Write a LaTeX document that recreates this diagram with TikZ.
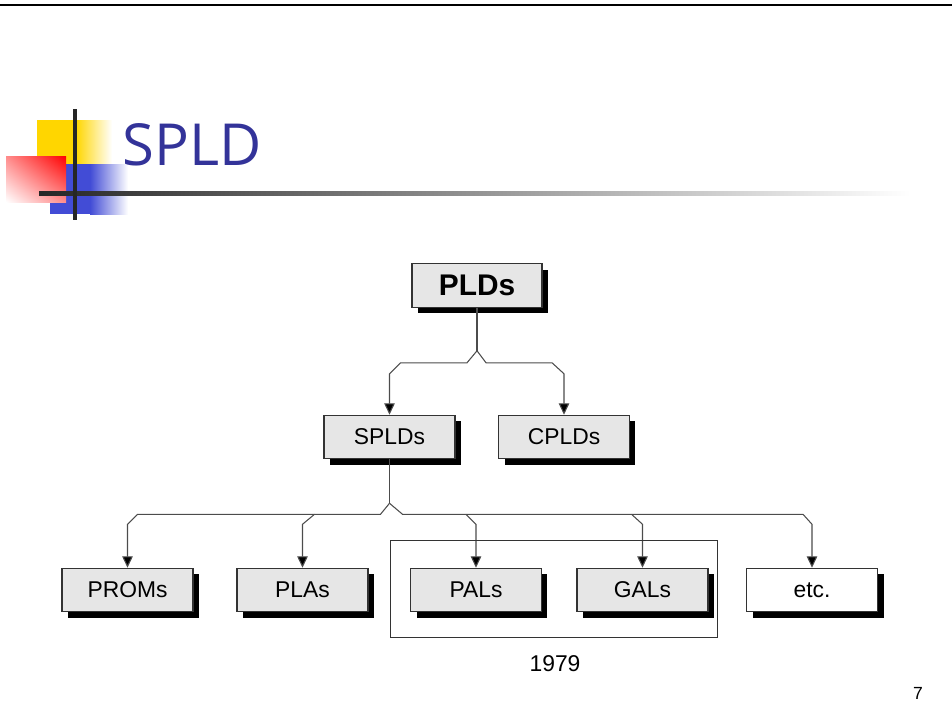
\documentclass[tikz,border=0pt]{standalone}
\usepackage{fontspec}
\setmainfont{Liberation Sans}
\newfontfamily\titlefont{Open Sans}
\usetikzlibrary{arrows.meta,shadows,shadings,calc}
\definecolor{title-blue}{RGB}{51,51,153}
\definecolor{box-gray}{RGB}{230,230,230}
\definecolor{logo-yellow}{RGB}{255,214,0}
\definecolor{logo-blue}{RGB}{66,76,214}
\definecolor{logo-pink}{RGB}{255,140,140}
\tikzset{
    pld-box/.style = {draw=black!80, fill=box-gray, line width=0.6pt, rectangle, minimum width=2.62cm, minimum height=0.87cm, inner sep=0pt, font=\fontsize{13}{15}\selectfont, drop shadow={shadow xshift=0.12cm, shadow yshift=-0.12cm, fill=black, opacity=1}},
    pld-box-top/.style = {pld-box, minimum width=2.6cm, font=\fontsize{17}{20}\selectfont\bfseries},
    pld-box-open/.style = {pld-box, fill=white},
    link/.style = {draw=black!70, line width=0.6pt},
    link-arrow/.style = {link, -{Triangle[length=6.5pt,width=6pt,fill=black]}},
}

\begin{document}
\begin{tikzpicture}[x=0.02cm, y=-0.02cm]
\useasboundingbox (0,0) rectangle (952,724);
% header
\draw[line width=1.6pt] (0,5) -- (952,5);
\fill[logo-yellow] (37,120) rectangle (76,164);
\shade[left color=logo-yellow, right color=white] (76,120) rectangle (112,164);
\fill[logo-blue] (50,164) rectangle (90,214);
\shade[left color=logo-blue, right color=white] (90,164) rectangle (128,214);
\shade[upper right=red, lower left=white, upper left=logo-pink, lower right=logo-pink] (6,156) rectangle (66,202);
\shade[left color=black!85, middle color=black!50, right color=white] (39,191) rectangle (910,195);
\draw[line width=2.2pt, black!85] (75,109) -- (75,220);
\node[anchor=base west, text=title-blue, font=\titlefont\fontsize{33}{38}\selectfont, inner sep=0pt] (title) at (122,165) {SPLD};

% tree
\node[pld-box-top] (plds) at (477,285.5) {PLDs};
\node[pld-box] (splds) at (389.5,437) {SPLDs};
\node[pld-box] (cplds) at (564,437) {CPLDs};
\node[pld-box] (proms) at (127.5,590) {PROMs};
\node[pld-box] (plas) at (302.5,590) {PLAs};
\node[pld-box] (pals) at (476,590) {PALs};
\node[pld-box] (gals) at (642.5,590) {GALs};
\node[pld-box-open] (etc) at (812,590) {etc.};

\coordinate (fork-a) at ($(plds.south)+(0,43)$);
\coordinate (rail-a) at ($(fork-a)+(0,12)$);
\draw[link] (plds.south) -- (fork-a);
\draw[link-arrow] (fork-a) -- ++(-10,12) -- ($(splds.north |- rail-a)+(11,0)$) -- ($(splds.north |- rail-a)+(0,11)$) -- (splds.north);
\draw[link-arrow] (fork-a) -- ++(9,12) -- ($(cplds.north |- rail-a)+(-12,0)$) -- ($(cplds.north |- rail-a)+(0,11)$) -- (cplds.north);

\coordinate (fork-b) at ($(splds.south)+(0,44)$);
\coordinate (rail-b) at ($(fork-b)+(0,11)$);
\draw[link] (splds.south) -- (fork-b);
\draw[link-arrow] (fork-b) -- ++(-9,11) -- ($(proms.north |- rail-b)+(10,0)$) -- ($(proms.north |- rail-b)+(0,10)$) -- (proms.north);
\draw[link-arrow] (fork-b) -- ++(13,11) -- ($(etc.north |- rail-b)+(-9,0)$) -- ($(etc.north |- rail-b)+(0,10)$) -- (etc.north);
\foreach \n/\dx in {plas/12, pals/-10, gals/-11}
    \draw[link-arrow] ($(\n.north |- rail-b)+(\dx,0)$) -- ($(\n.north |- rail-b)+(0,10)$) -- (\n.north);

\draw[line width=0.5pt, black!80] (390,540) rectangle (717,637);
\node[font=\fontsize{13}{15}\selectfont] (year) at (555,664) {1979};
\node[font=\fontsize{10}{12}\selectfont] (page-num) at (918,693) {7};
\end{tikzpicture}
\end{document}
